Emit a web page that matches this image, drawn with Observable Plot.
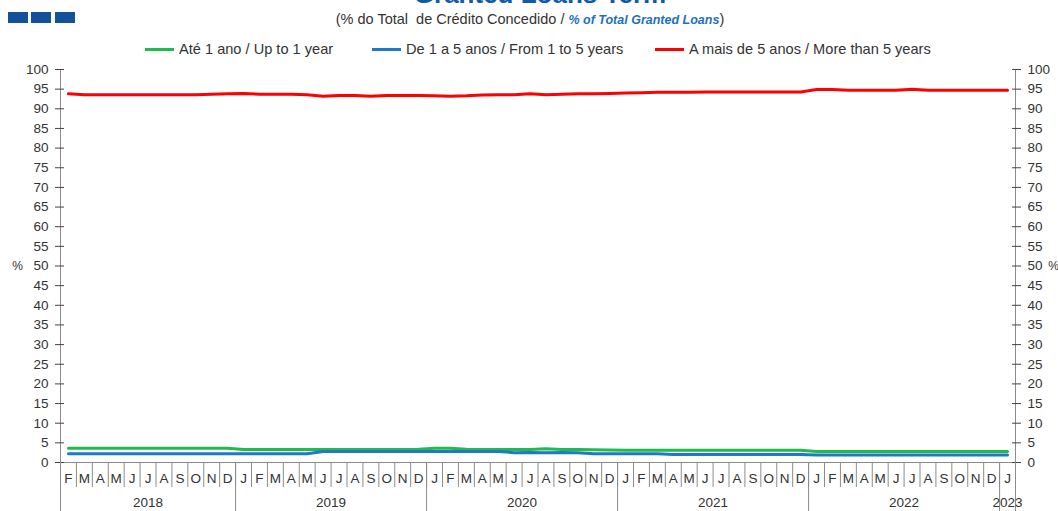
<!DOCTYPE html>
<html><head><meta charset="utf-8">
<script src="https://cdn.jsdelivr.net/npm/d3@7"></script>
<script src="https://cdn.jsdelivr.net/npm/@observablehq/plot@0.6"></script>
<style>
body{margin:0;background:#fff;font-family:"Liberation Sans",Arial,sans-serif;color:#333;}
#wrap{position:relative;width:1058px;height:511px;overflow:hidden;}
#head{position:relative;height:60px;}
.sq{position:absolute;top:12px;width:20px;height:11px;background:#15509a;}
#title{position:absolute;left:0;width:1080px;text-align:center;top:-21px;font-size:26px;font-weight:bold;color:#0f5ba8;line-height:30px;white-space:nowrap;}
#sub{position:absolute;left:0;width:1060px;text-align:center;top:10px;font-size:14.5px;line-height:18px;white-space:nowrap;}
#sub b{font-style:italic;color:#1f6fc0;font-size:12.5px;}
.lg{position:absolute;top:40px;font-size:14.6px;line-height:18px;white-space:nowrap;}
.sw{display:inline-block;width:29px;height:3px;vertical-align:middle;margin-right:5px;position:relative;top:-1px;}
</style></head><body>
<div id="wrap">
<div id="head">
  <div class="sq" style="left:8px"></div><div class="sq" style="left:31px"></div><div class="sq" style="left:55px"></div>
  <div id="title">Granted Loans Term</div>
  <div id="sub">(% do Total&nbsp; de Crédito Concedido / <b>% of Total Granted Loans</b>)</div>
  <div id="legend"></div>
</div>
<div id="chart"></div>
</div>
<script>
// Categories: Feb 2018 .. Jan 2023
const monthLetters = ["J","F","M","A","M","J","J","A","S","O","N","D"];
const firstMonth = 1; // February
const yearLabels = ["2018","2019","2020","2021","2022","2023"];
const yearMonthCounts = [11,12,12,12,12,1];

const seriesNames = ["Até 1 ano / Up to 1 year","De 1 a 5 anos / From 1 to 5 years","A mais de 5 anos / More than 5 years"];
const seriesColors = ["#1fbc4c","#1f78c8","#ff0000"];

const upTo1 = [3.65,3.65,3.65,3.65,3.65,3.65,3.65,3.65,3.65,3.65,3.6,
  3.3,3.3,3.3,3.3,3.3,3.3,3.3,3.3,3.3,3.3,3.3,3.4,
  3.65,3.65,3.35,3.3,3.3,3.3,3.3,3.5,3.3,3.3,3.25,3.2,
  3.1,3.1,3.1,3.1,3.1,3.1,3.1,3.1,3.1,3.1,3.1,3.1,
  2.8,2.8,2.8,2.8,2.8,2.8,2.8,2.8,2.8,2.8,2.8,2.8,
  2.8];
const from1to5 = [2.25,2.25,2.25,2.25,2.25,2.25,2.25,2.25,2.25,2.25,2.25,
  2.25,2.25,2.25,2.25,2.25,2.8,2.8,2.8,2.8,2.8,2.8,2.8,
  2.8,2.8,2.8,2.8,2.8,2.5,2.55,2.5,2.55,2.5,2.2,2.2,
  2.2,2.2,2.2,2.05,2.05,2.05,2.05,2.05,2.05,2.05,2.05,2.05,
  1.9,1.9,1.9,1.9,1.9,1.9,1.9,1.9,1.9,1.9,1.9,1.9,
  1.9];
const over5 = [93.8,93.6,93.6,93.6,93.6,93.6,93.6,93.6,93.6,93.7,93.8,
  93.9,93.7,93.7,93.7,93.6,93.2,93.4,93.4,93.2,93.4,93.4,93.4,
  93.3,93.2,93.3,93.5,93.6,93.6,93.8,93.6,93.7,93.8,93.8,93.9,
  94.0,94.1,94.2,94.2,94.2,94.3,94.3,94.3,94.3,94.3,94.3,94.3,
  94.9,94.9,94.7,94.7,94.7,94.7,95.0,94.7,94.7,94.7,94.7,94.7,
  94.7];
const yTicks = [0,5,10,15,20,25,30,35,40,45,50,55,60,65,70,75,80,85,90,95,100];

// legend
const legendLeft = [145,372,655];
const lg = document.getElementById("legend");
seriesNames.forEach((s,k)=>{
  const d = document.createElement("div");
  d.className="lg"; d.style.left = legendLeft[k]+"px";
  d.innerHTML = `<span class="sw" style="background:${seriesColors[k]}"></span>${s}`;
  lg.appendChild(d);
});

const n = upTo1.length;
const idx = d3.range(n);
const monthLabel = i => monthLetters[(i + firstMonth) % 12];
const rows = [];
[upTo1, from1to5, over5].forEach((arr,k)=> arr.forEach((v,i)=> rows.push({i, v, s: seriesNames[k]})));

// year boundaries & centers
const yearBounds = [-0.5];
const yearCenters = [];
let acc = 0;
yearMonthCounts.forEach(c=>{ yearCenters.push(acc + (c-1)/2); acc += c; yearBounds.push(acc-0.5); });
const yearOf = new Map(yearCenters.map((c,k)=>[c, yearLabels[k]]));
const seps = d3.range(n-1).map(i=>i+0.5);
const xDomain = [-0.5, n-0.5];
const blank = () => "";

const chart = Plot.plot({
  width: 1058, height: 451,
  marginTop: 9, marginBottom: 49, marginLeft: 60, marginRight: 43,
  style: {fontFamily: '"Liberation Sans", Arial, sans-serif', fontSize: "13.5px", color: "#333", background: "#fff"},
  x: {type: "linear", domain: xDomain},
  y: {domain: [0, 100]},
  color: {domain: seriesNames, range: seriesColors},
  marks: [
    Plot.ruleX(xDomain, {y1: 0, y2: 100, stroke: "#8c8c8c"}),
    Plot.ruleY([0], {stroke: "#8c8c8c"}),
    Plot.axisY(yTicks, {anchor: "left", tickSize: 9, dx: 4, tickFormat: blank, stroke: "#444", label: null}),
    Plot.axisY(yTicks, {anchor: "left", tickSize: 0, tickPadding: 12, fill: "#333", label: null}),
    Plot.axisY(yTicks, {anchor: "right", tickSize: 9, dx: -4, tickFormat: blank, stroke: "#444", label: null}),
    Plot.axisY(yTicks, {anchor: "right", tickSize: 0, tickPadding: 12, fill: "#333", label: null}),
    Plot.axisX(seps, {anchor: "bottom", tickSize: 25, tickFormat: blank, stroke: "#8c8c8c", label: null}),
    Plot.axisX(yearBounds, {anchor: "bottom", tickSize: 49, tickFormat: blank, stroke: "#8c8c8c", label: null}),
    Plot.axisX(idx, {anchor: "bottom", tickSize: 0, tickPadding: 11, tickFormat: monthLabel, fill: "#333", label: null}),
    Plot.axisX(yearCenters, {anchor: "bottom", tickSize: 0, tickPadding: 35, tickFormat: d => yearOf.get(d), fill: "#333", label: null}),
    Plot.text(["%"], {text: d => d, frameAnchor: "left", textAnchor: "middle", dx: -43, fill: "#333", fontSize: 12}),
    Plot.text(["%"], {text: d => d, frameAnchor: "right", textAnchor: "middle", dx: 38, fill: "#333", fontSize: 12}),
    Plot.line(rows, {x: "i", y: "v", z: "s", stroke: "s", strokeWidth: 3})
  ]
});
document.getElementById("chart").appendChild(chart);
</script>
</body></html>
